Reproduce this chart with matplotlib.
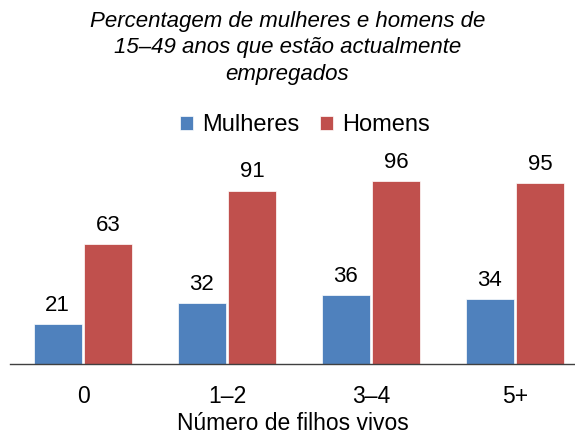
import matplotlib
matplotlib.use("Agg")
import matplotlib.pyplot as plt
import numpy as np

plt.rcParams['font.family'] = ['Liberation Sans', 'DejaVu Sans']

categories = ["0", "1–2", "3–4", "5+"]
mulheres = [21, 32, 36, 34]
homens = [63, 91, 96, 95]
series_names = ["Mulheres", "Homens"]
colors = ["#4F81BD", "#C0504D"]
title = "Percentagem de mulheres e homens de\n15–49 anos que estão actualmente\nempregados"
xlabel = "Número de filhos vivos"

fig = plt.figure(figsize=(5.75, 4.36), dpi=100)
ax = fig.add_axes([10/575, 1-364/436, 1-10/575, (364-173.5)/436])

x = np.arange(len(categories))
w = 0.335
gap = 0.008
b1 = ax.bar(x - w/2 - gap, mulheres, w, color=colors[0], edgecolor="white", linewidth=0.5, label=series_names[0])
b2 = ax.bar(x + w/2 + gap, homens, w, color=colors[1], edgecolor="white", linewidth=0.5, label=series_names[1])
for bars, vals in ((b1, mulheres), (b2, homens)):
    for r, v in zip(bars, vals):
        ax.annotate(str(v), (r.get_x() + r.get_width()/2, r.get_height()),
                    xytext=(0, 6), textcoords="offset points", ha="center", va="bottom",
                    fontsize=16, annotation_clip=False)

ax.set_xlim(-0.507, 3.417)
ax.set_ylim(0, 100)
for s in ["top", "right", "left"]:
    ax.spines[s].set_visible(False)
ax.spines["bottom"].set_color("#404040")
ax.spines["bottom"].set_linewidth(1.0)
ax.set_yticks([])
ax.set_xticks(x)
ax.set_xticklabels(categories, fontsize=16.5)
ax.tick_params(axis="x", length=0, pad=15)
ax.set_xlabel(xlabel, fontsize=16.5, labelpad=3)

fig.text(0.5, 1-48/436, title, ha="center", va="center", fontsize=16, style="italic", linespacing=1.32)
fig.legend(handles=[b1, b2], labels=series_names, loc="center", bbox_to_anchor=(305/575, 1-125/436),
           ncol=2, frameon=False, fontsize=17, handlelength=0.55, handleheight=0.55,
           handletextpad=0.4, columnspacing=0.85)

fig.savefig("out.png", dpi=100)
